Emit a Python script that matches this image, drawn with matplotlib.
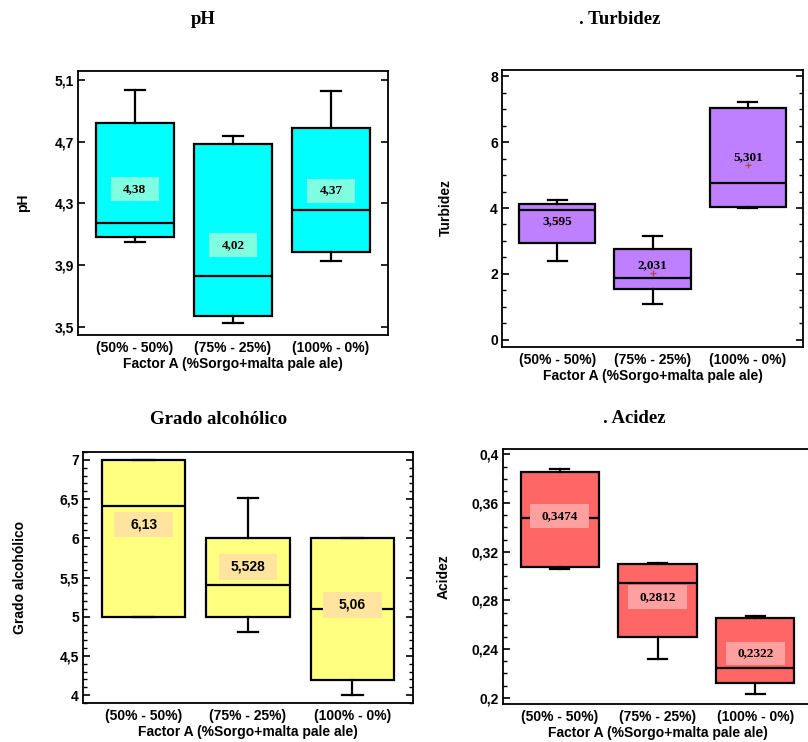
import matplotlib
matplotlib.use("Agg")
import matplotlib.pyplot as plt
from matplotlib.patches import Rectangle
from matplotlib.ticker import FixedLocator, MultipleLocator, FuncFormatter

GROUPS = ["(50% - 50%)", "(75% - 25%)", "(100% - 0%)"]
XLABEL = "Factor A (%Sorgo+malta pale ale)"

# five-number summaries, plus the printed mean
PH_LO = [4.05, 3.527, 3.93]
PH_Q1 = [4.08, 3.570, 3.983]
PH_MED = [4.173, 3.829, 4.256]
PH_Q3 = [4.823, 4.682, 4.79]
PH_HI = [5.035, 4.734, 5.029]
PH_MEAN = [4.38, 4.02, 4.37]

TURB_LO = [2.39, 1.09, 4.0]
TURB_Q1 = [2.94, 1.55, 4.04]
TURB_MED = [3.945, 1.88, 4.76]
TURB_Q3 = [4.12, 2.77, 7.03]
TURB_HI = [4.24, 3.155, 7.23]
TURB_MEAN = [3.595, 2.031, 5.301]

ALC_LO = [5.0, 4.8, 4.0]
ALC_Q1 = [5.0, 5.0, 4.195]
ALC_MED = [6.41, 5.40, 5.10]
ALC_Q3 = [7.0, 6.0, 6.0]
ALC_HI = [7.0, 6.51, 6.0]
ALC_MEAN = [6.13, 5.528, 5.06]

ACID_LO = [0.3057, 0.2318, 0.2033]
ACID_Q1 = [0.3076, 0.2496, 0.2120]
ACID_MED = [0.3476, 0.2941, 0.2244]
ACID_Q3 = [0.3857, 0.3097, 0.2655]
ACID_HI = [0.3877, 0.3105, 0.2672]
ACID_MEAN = [0.3474, 0.2812, 0.2322]

SANS = "Liberation Sans"
SERIF = "Liberation Serif"


def comma(v, pos=None):
    return f"{v:g}".replace(".", ",")


def make_stats(lo, q1, med, q3, hi, mean):
    return [dict(whislo=a, q1=b, med=c, q3=d, whishi=e, mean=m, fliers=[])
            for a, b, c, d, e, m in zip(lo, q1, med, q3, hi, mean)]


def draw_panel(ax, stats, face, ylim, majors, minor, label_bg=None, rect_wh=None,
               label_dy=(0, 0, 0), label_family=SERIF, label_size=9.5, show_mean=False):
    ax.bxp(stats, positions=range(3), widths=0.8, capwidths=0.2, patch_artist=True,
           showfliers=False, showmeans=show_mean,
           boxprops=dict(facecolor=face, edgecolor="black", linewidth=1.6),
           medianprops=dict(color="black", linewidth=1.6),
           whiskerprops=dict(color="black", linewidth=1.6),
           capprops=dict(color="black", linewidth=1.6),
           meanprops=dict(marker="+", markeredgecolor="#b04a3a", markersize=5,
                          markeredgewidth=0.9))
    for i, s in enumerate(stats):
        y = s["mean"] + label_dy[i]
        if label_bg is not None:
            w, h = rect_wh
            ax.add_patch(Rectangle((i - w / 2, y - h / 2), w, h, facecolor=label_bg,
                                   edgecolor="none", zorder=5))
        ax.text(i, y, comma(s["mean"]), ha="center", va="center", zorder=6,
                fontsize=label_size, fontweight="bold", family=label_family)
    ax.set_xlim(-0.58, 2.58)
    ax.set_ylim(*ylim)
    ax.yaxis.set_major_locator(FixedLocator(majors))
    if minor:
        ax.yaxis.set_minor_locator(MultipleLocator(minor))
    ax.yaxis.set_major_formatter(FuncFormatter(comma))
    ax.set_xticks(range(3))
    ax.set_xticklabels(GROUPS)
    ax.tick_params(axis="y", which="both", direction="in", left=True, right=True)
    ax.tick_params(axis="y", which="major", length=5, width=1.2, pad=3)
    ax.tick_params(axis="y", which="minor", length=3, width=1.0)
    ax.tick_params(axis="x", length=0, pad=4)
    for lab in ax.get_xticklabels() + ax.get_yticklabels():
        lab.set_family(SANS)
        lab.set_fontweight("bold")
        lab.set_fontsize(10)
    for sp in ax.spines.values():
        sp.set_linewidth(1.3)
    ax.set_xlabel(XLABEL, family=SANS, fontweight="bold", fontsize=10, labelpad=2)


fig = plt.figure(figsize=(8.08, 7.42), dpi=100)
W, H = 808, 742


def axes_px(left, top, right, bottom):
    return fig.add_axes([left / W, 1 - bottom / H, (right - left) / W, (bottom - top) / H])


ax_ph = axes_px(78, 71, 388, 335)
ax_tu = axes_px(502, 70, 803, 347)
ax_al = axes_px(83, 452, 413, 703)
ax_ac = axes_px(503, 449, 812, 704)

draw_panel(ax_ph, make_stats(PH_LO, PH_Q1, PH_MED, PH_Q3, PH_HI, PH_MEAN), "#00ffff",
           (3.448, 5.158), [3.5, 3.9, 4.3, 4.7, 5.1], None,
           label_bg="#80ffe0", rect_wh=(0.49, 0.156), label_dy=(0.013, 0.013, 0.013))
draw_panel(ax_tu, make_stats(TURB_LO, TURB_Q1, TURB_MED, TURB_Q3, TURB_HI, TURB_MEAN), "#bf80ff",
           (-0.22, 8.19), [0, 2, 4, 6, 8], 0.5, label_dy=(0.0, 0.22, 0.24), show_mean=True)
draw_panel(ax_al, make_stats(ALC_LO, ALC_Q1, ALC_MED, ALC_Q3, ALC_HI, ALC_MEAN), "#ffff80",
           (3.90, 7.10), [4, 4.5, 5, 5.5, 6, 6.5, 7], 0.1,
           label_bg="#ffe4a0", rect_wh=(0.56, 0.33), label_dy=(0.045, 0.11, 0.095),
           label_family=SANS, label_size=10)
draw_panel(ax_ac, make_stats(ACID_LO, ACID_Q1, ACID_MED, ACID_Q3, ACID_HI, ACID_MEAN), "#ff6666",
           (0.1948, 0.4044), [0.2, 0.24, 0.28, 0.32, 0.36, 0.4], 0.01,
           label_bg="#ffa0a0", rect_wh=(0.60, 0.0195), label_dy=(0.002, 0.0016, 0.004))
# the acidity panel is cut at the right edge of the picture
ax_ac.spines["right"].set_visible(False)
ax_ac.tick_params(axis="y", which="both", right=False)

titles = [("pH", 203, 20), (". Turbidez", 620, 19), ("Grado alcohólico", 219, 419), (". Acidez", 634, 418)]
for t, x, y in titles:
    fig.text(x / W, 1 - y / H, t, ha="center", va="center", family=SERIF,
             fontweight="bold", fontsize=13.5)

ylabels = [("pH", 23, 203), ("Turbidez", 446, 208), ("Grado alcohólico", 20, 578), ("Acidez", 444, 577)]
for t, x, y in ylabels:
    fig.text(x / W, 1 - y / H, t, ha="center", va="center", rotation=90, family=SANS,
             fontweight="bold", fontsize=10)

fig.savefig("out.png", dpi=100)
